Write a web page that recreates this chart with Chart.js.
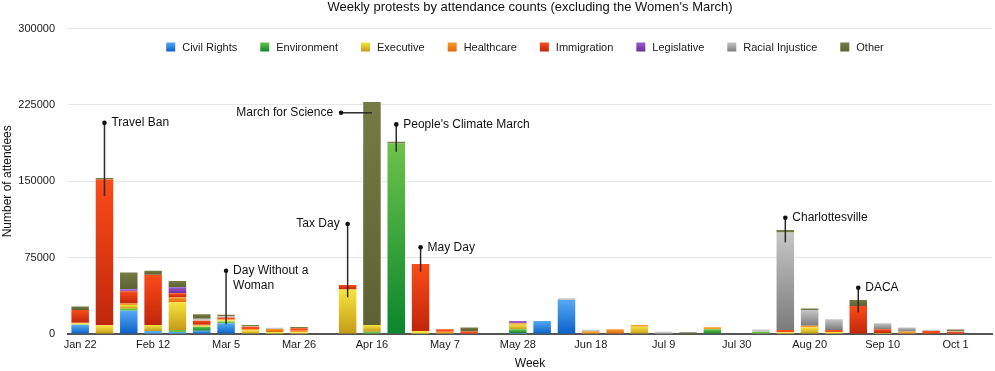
<!DOCTYPE html>
<html><head><meta charset="utf-8">
<script src="https://cdn.jsdelivr.net/npm/chart.js@4.4.1/dist/chart.umd.min.js"></script>
<style>html,body{margin:0;padding:0;background:#fff}#wrap{position:relative;width:995px;height:371px}</style>
</head><body><div id="wrap"><canvas id="c"></canvas></div>
<script>
// ---- categories ----
const weeks = ['Jan 22','Jan 29','Feb 5','Feb 12','Feb 19','Feb 26','Mar 5','Mar 12','Mar 19','Mar 26',
  'Apr 2','Apr 9','Apr 16','Apr 23','Apr 30','May 7','May 14','May 21','May 28','Jun 4',
  'Jun 11','Jun 18','Jun 25','Jul 2','Jul 9','Jul 16','Jul 23','Jul 30','Aug 6','Aug 13',
  'Aug 20','Aug 27','Sep 3','Sep 10','Sep 17','Sep 24','Oct 1','Oct 8'];
const seriesNames = ['Civil Rights','Environment','Executive','Healthcare','Immigration','Legislative','Racial Injustice','Other'];

// ---- series values (attendees per week) ----
const civilRights = [9000,0,22900,2900,2000,3200,10500,0,0,0, 0,0,0,0,0,0,0,0,900,12800, 33400,0,0,0,0,0,0,0,0,0, 0,0,0,0,0,0,0,0];
const environment = [0,0,2000,0,2000,3900,1800,0,0,0, 0,0,2300,187200,0,0,0,0,3700,0, 0,0,0,0,0,0,4600,0,2300,0, 0,0,0,0,0,0,0,0];
const executive   = [1200,8300,3500,5900,27200,1000,1200,3500,2000,1700, 0,43500,6500,0,2900,0,0,0,4600,0, 0,0,0,7200,0,0,0,0,0,1600, 6500,2000,0,1000,500,0,0,0];
const healthcare  = [800,500,1500,0,4900,1000,800,1500,3000,1500, 0,400,0,0,0,2100,0,0,1300,0, 0,2600,4600,1600,0,0,2000,0,0,0, 1600,0,0,0,2000,0,0,0];
const immigration = [12500,143000,12100,49500,3900,3900,2000,2000,0,2500, 0,4200,0,0,65800,2500,2500,0,0,0, 0,0,0,0,0,0,0,0,0,2300, 0,2000,27500,3600,0,2900,2300,0];
const legislative = [0,0,2000,0,5900,0,0,0,0,0, 0,0,0,0,0,0,0,0,2300,0, 0,0,0,0,0,0,0,0,0,0, 0,0,0,0,0,0,0,0];
const racial      = [0,0,0,0,0,2000,1500,500,1200,0, 0,0,0,0,0,0,0,0,0,0, 1600,1600,0,0,2300,0,0,0,2000,95900, 15400,10500,0,5900,3900,1300,700,0];
const other       = [3600,1500,16400,3900,6200,4300,1000,1300,0,1200, 0,0,219200,1600,0,0,3900,0,0,0, 0,0,0,0,0,1800,0,0,0,2300, 1600,0,5900,0,0,0,1300,0];
const seriesValues = [civilRights, environment, executive, healthcare, immigration, legislative, racial, other];

// ---- y-axis ticks ----
const yTicks = [0, 75000, 150000, 225000, 300000];

// ---- annotations (values in data units) ----
const annText   = ['Travel Ban', 'March for Science', "People's Climate March", 'Tax Day', 'May Day', ['Day Without a','Woman'], 'Charlottesville', 'DACA'];
const annWeek   = [1, 12, 13, 11, 14, 6, 29, 32];
const annDotWeek= [1, 10.73, 13, 11, 14, 6, 29, 32];
const annFrom   = [135500, 217300, 179000, 36000, 61200, 9500, 90000, 21300];
const annTo     = [207400, 217300, 205900, 108000, 85100, 62100, 114200, 45400];
const annSide   = ['right','left','right','left','right','right','right','right'];

// ---- styles ----
const topColors    = ['#55aaf4','#6cc34a','#f7e43c','#f89c2c','#fb4c18','#9c5ccc','#c6c6c6','#747b44'];
const bottomColors = ['#0a60c8','#0a862c','#c49a18','#e2660c','#c0260c','#6a2c98','#7c7c7c','#5c6232'];
const FONT = '"Liberation Sans", Arial, Helvetica, sans-serif';

function segGradient(ctx, k) {
  const chart = ctx.chart;
  if (!chart.chartArea || ctx.type !== 'data' || !chart.scales.y) return topColors[k];
  const i = ctx.dataIndex;
  let start = 0;
  for (let d = 0; d < k; d++) start += seriesValues[d][i] || 0;
  const end = start + (seriesValues[k][i] || 0);
  const ys = chart.scales.y;
  const yTop = ys.getPixelForValue(end), yBot = ys.getPixelForValue(start);
  if (!(yBot - yTop > 3)) return topColors[k];
  const g = chart.ctx.createLinearGradient(0, yTop, 0, yBot);
  g.addColorStop(0, topColors[k]);
  g.addColorStop(1, bottomColors[k]);
  return g;
}

const insideLegend = {
  id: 'insideLegend',
  afterDraw(chart) {
    const ctx = chart.ctx, ca = chart.chartArea;
    ctx.save();
    ctx.font = '11px ' + FONT;
    ctx.textBaseline = 'middle';
    ctx.textAlign = 'left';
    const box = 9, gapText = 7, gapItem = 23;
    const widths = seriesNames.map(n => ctx.measureText(n).width);
    const total = widths.reduce((a, w) => a + box + gapText + w, 0) + gapItem * (seriesNames.length - 1);
    let x = (ca.left + ca.right) / 2 - 5 - total / 2;
    const yc = 47;
    seriesNames.forEach((n, k) => {
      const g = ctx.createLinearGradient(0, yc - box / 2, 0, yc + box / 2);
      g.addColorStop(0, topColors[k]); g.addColorStop(1, bottomColors[k]);
      ctx.fillStyle = g;
      ctx.fillRect(x, yc - box / 2, box, box);
      ctx.fillStyle = '#1a1a1a';
      ctx.fillText(n, x + box + gapText, yc + 0.5);
      x += box + gapText + widths[k] + gapItem;
    });
    ctx.restore();
  }
};

const annotations = {
  id: 'annotations',
  afterDatasetsDraw(chart) {
    const ctx = chart.ctx, xs = chart.scales.x, ys = chart.scales.y;
    ctx.save();
    ctx.font = '12px ' + FONT;
    ctx.textBaseline = 'middle';
    for (let i = 0; i < annText.length; i++) {
      const bx = xs.getPixelForValue(annWeek[i]);
      const dx = xs.getPixelForValue(annDotWeek[i]);
      const fy = ys.getPixelForValue(annFrom[i]);
      const dy = ys.getPixelForValue(annTo[i]);
      ctx.strokeStyle = '#2b2b2b';
      ctx.lineWidth = 1.5;
      ctx.beginPath(); ctx.moveTo(bx, fy); ctx.lineTo(dx, dy); ctx.stroke();
      ctx.fillStyle = '#111';
      ctx.beginPath(); ctx.arc(dx, dy, 2.3, 0, Math.PI * 2); ctx.fill();
      const lines = Array.isArray(annText[i]) ? annText[i] : [annText[i]];
      ctx.textAlign = annSide[i] === 'left' ? 'right' : 'left';
      const tx = annSide[i] === 'left' ? dx - 8 : dx + 7;
      lines.forEach((t, j) => ctx.fillText(t, tx, dy + j * 14.5));
    }
    ctx.restore();
  }
};

new Chart(document.getElementById('c'), {
  type: 'bar',
  data: {
    labels: weeks,
    datasets: seriesNames.map((name, k) => ({
      label: name,
      data: seriesValues[k].map(v => v === 0 ? null : v),
      backgroundColor: (ctx) => segGradient(ctx, k),
      borderWidth: 0,
      categoryPercentage: 1,
      barPercentage: 0.72
    }))
  },
  options: {
    responsive: true,
    maintainAspectRatio: false,
    animation: false,
    events: [],
    layout: { padding: { top: 0, right: 3, bottom: 0, left: 0 } },
    plugins: {
      legend: { display: false },
      tooltip: { enabled: false },
      title: {
        display: true,
        fullSize: false,
        text: "Weekly protests by attendance counts (excluding the Women's March)",
        color: '#111',
        font: { family: FONT, size: 13, weight: 'normal' },
        padding: { top: 0, bottom: 13 }
      }
    },
    scales: {
      x: {
        stacked: true,
        grid: { display: false, drawTicks: false },
        border: { display: true, color: '#555', width: 2 },
        ticks: {
          autoSkip: false, maxRotation: 0, padding: 4, color: '#1a1a1a',
          font: { family: FONT, size: 11 },
          callback: (v, i) => (i % 3 === 0 ? weeks[i] : '')
        },
        title: { display: true, text: 'Week', color: '#111', font: { family: FONT, size: 12 }, padding: { top: -4, bottom: 0 } },
        afterFit: (s) => { s.height = 37; }
      },
      y: {
        stacked: true,
        min: 0, max: 300000,
        afterBuildTicks: (s) => { s.ticks = yTicks.map(v => ({ value: v })); },
        grid: { color: '#e6e6e6', lineWidth: 1, drawTicks: false },
        border: { display: false },
        ticks: { padding: 13, color: '#1a1a1a', font: { family: FONT, size: 11 }, callback: (v) => String(v) },
        title: { display: true, text: 'Number of attendees', color: '#111', font: { family: FONT, size: 12 }, padding: { top: 0, bottom: 0 } },
        afterFit: (s) => { s.width = 68; }
      }
    }
  },
  plugins: [insideLegend, annotations]
});
</script>
</body></html>
